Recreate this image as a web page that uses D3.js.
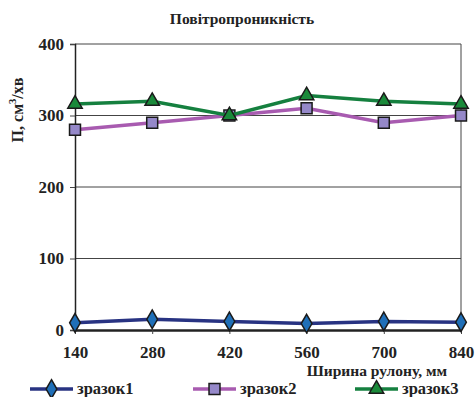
<!DOCTYPE html>
<html>
<head>
<meta charset="utf-8">
<script src="https://cdn.jsdelivr.net/npm/d3@7"></script>
<style>
  body { margin: 0; background: #fff; }
  svg text { font-family: "Liberation Serif", "Times New Roman", serif !important; font-weight: bold; fill: #222; }
</style>
</head>
<body>
<script>
// ширина рулону, мм
const widths = [140, 280, 420, 560, 700, 840];
const yTicks = [0, 100, 200, 300, 400];

const zrazok1 = [10, 15, 12, 9, 12, 11];
const zrazok2 = [280, 290, 300, 310, 290, 300];
const zrazok3 = [316, 320, 300, 328, 320, 316];

const seriesNames = ["зразок1", "зразок2", "зразок3"];

const w = 475;
const h = 397;
const plotLeft = 75, plotRight = 461, plotTop = 44, plotBottom = 330;

const svg = d3.select("body")
    .append("svg")
    .attr("width", w)
    .attr("height", h);

const x = d3.scalePoint()
    .domain(widths)
    .range([plotLeft, plotRight]);

const y = d3.scaleLinear()
    .domain([0, 400])
    .range([plotBottom, plotTop]);

// grid lines
svg.selectAll("line.grid")
    .data(yTicks.slice(1))
    .enter()
    .append("line")
    .attr("x1", plotLeft).attr("x2", plotRight)
    .attr("y1", d => y(d)).attr("y2", d => y(d))
    .attr("stroke", "#444").attr("stroke-width", 1);

// frame right side
svg.append("line")
    .attr("x1", plotRight).attr("x2", plotRight)
    .attr("y1", plotTop).attr("y2", plotBottom)
    .attr("stroke", "#444").attr("stroke-width", 1);

// axes
const yAxis = svg.append("g")
    .attr("transform", `translate(${plotLeft},0)`)
    .call(d3.axisLeft(y).tickValues(yTicks).tickSize(5).tickPadding(6));
yAxis.select(".domain").attr("stroke", "#222").attr("stroke-width", 1.5);
yAxis.selectAll(".tick line").attr("stroke", "#444");
yAxis.selectAll("text").style("font-size", "17px").attr("fill", "#222");

const xAxis = svg.append("g")
    .attr("transform", `translate(0,${plotBottom})`)
    .call(d3.axisBottom(x).tickSize(4).tickPadding(12).tickSizeOuter(0));
xAxis.select(".domain").attr("stroke", "#222").attr("stroke-width", 2.5);
xAxis.selectAll(".tick line").attr("stroke", "#444");
xAxis.selectAll("text").style("font-size", "17px").attr("fill", "#222");

// titles
svg.append("text")
    .attr("x", 242).attr("y", 24)
    .attr("text-anchor", "middle")
    .style("font-size", "15.5px")
    .text("Повітропроникність");

svg.append("text")
    .attr("transform", "translate(23,110) rotate(-90)")
    .attr("text-anchor", "middle")
    .style("font-size", "16px")
    .html('П, см<tspan dy="-7" style="font-size:10.5px">3</tspan><tspan dy="7">/хв</tspan>');

svg.append("text")
    .attr("x", 447).attr("y", 376)
    .attr("text-anchor", "end")
    .style("font-size", "15.5px")
    .text("Ширина рулону, мм");

const series = [
  { name: seriesNames[0], values: zrazok1, line: "#283382", fill: "#1f6fb8", shape: d3.symbolDiamond, size: 100 },
  { name: seriesNames[1], values: zrazok2, line: "#a85bb0", fill: "#9588c9", shape: d3.symbolSquare, size: 120 },
  { name: seriesNames[2], values: zrazok3, line: "#15803f", fill: "#1a8a3a", shape: d3.symbolTriangle, size: 90 }
];

const line = d3.line()
    .x((d, i) => x(widths[i]))
    .y(d => y(d));

series.forEach(s => {
  svg.append("path")
      .attr("d", line(s.values))
      .attr("fill", "none")
      .attr("stroke", s.line)
      .attr("stroke-width", 3.5);

  svg.selectAll(null)
      .data(s.values)
      .enter()
      .append("path")
      .attr("d", d3.symbol().type(s.shape).size(s.size))
      .attr("transform", (d, i) => `translate(${x(widths[i])},${y(d)})`)
      .attr("fill", s.fill)
      .attr("stroke", "#1a1a1a")
      .attr("stroke-width", 1.5);
});

// legend
const legendX = [30, 193, 355];
series.forEach((s, i) => {
  const g = svg.append("g").attr("transform", `translate(${legendX[i]},389)`);
  g.append("line")
      .attr("x1", 0).attr("x2", 43)
      .attr("stroke", s.line).attr("stroke-width", 3.5);
  g.append("path")
      .attr("d", d3.symbol().type(s.shape).size(s.size))
      .attr("transform", "translate(21.5,0)")
      .attr("fill", s.fill)
      .attr("stroke", "#1a1a1a")
      .attr("stroke-width", 1.5);
  g.append("text")
      .attr("x", 47).attr("y", 5)
      .style("font-size", "16.5px")
      .text(s.name);
});
</script>
</body>
</html>
